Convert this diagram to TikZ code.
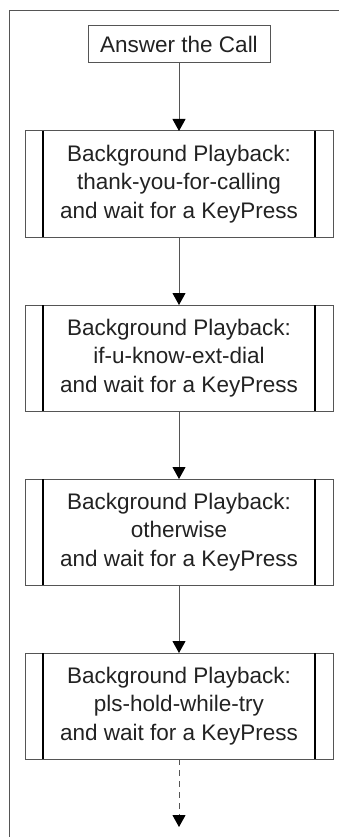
\documentclass[tikz,border=0pt]{standalone}
\usepackage{fontspec}
\setmainfont{Liberation Sans}
\usetikzlibrary{positioning, arrows.meta}

\definecolor{linegray}{HTML}{555555}
\definecolor{textdark}{HTML}{222222}

\tikzset{
  startbox/.style={draw=linegray, line width=1pt, outer sep=0pt,
    minimum width=182pt, minimum height=37pt, inner sep=0pt,
    text=textdark, font=\fontsize{22.5}{28.5}\selectfont},
  playbox/.style={draw=linegray, line width=1pt, outer sep=0pt,
    minimum width=308pt, minimum height=106pt, inner sep=0pt,
    align=center, text=textdark, font=\fontsize{22.5}{28.5}\selectfont},
  flow/.style={draw=linegray, line width=1pt,
    -{Triangle[width=13pt,length=12pt,color=black]}}
}

\begin{document}
\begin{tikzpicture}[x=1pt, y=-1pt]
      \useasboundingbox (0,0) rectangle (339,837);

      % Define the frame
      \draw[linegray, line width=1.5pt] (9.5,837) -- (9.5,10.5) -- (339,10.5);

      % Draw the nodes
      \node[startbox] (answer) at (179,44.5) {Answer the Call};
      \node[playbox, below=68pt of answer] (thanks)
      {Background Playback:\\thank-you-for-calling\\and wait for a KeyPress};
      \node[playbox, below=68pt of thanks] (ifknow)
      {Background Playback:\\if-u-know-ext-dial\\and wait for a KeyPress};
      \node[playbox, below=68pt of ifknow] (otherwise)
      {Background Playback:\\otherwise\\and wait for a KeyPress};
      \node[playbox, below=68pt of otherwise] (plshold)
      {Background Playback:\\pls-hold-while-try\\and wait for a KeyPress};
      \coordinate (more) at (179,827);

      % Draw the inner bars
      \foreach \n in {thanks, ifknow, otherwise, plshold} {
        \draw[black, line width=2pt] ([xshift=18pt]\n.north west) -- ([xshift=18pt]\n.south west);
        \draw[black, line width=2pt] ([xshift=-18pt]\n.north east) -- ([xshift=-18pt]\n.south east);
      }

      % Draw the arrows
      \draw[flow] (answer) -- (thanks);
      \draw[flow] (thanks) -- (ifknow);
      \draw[flow] (ifknow) -- (otherwise);
      \draw[flow] (otherwise) -- (plshold);
      \draw[flow, dash pattern=on 6pt off 5pt] (plshold) -- (more);
    \end{tikzpicture}
\end{document}
